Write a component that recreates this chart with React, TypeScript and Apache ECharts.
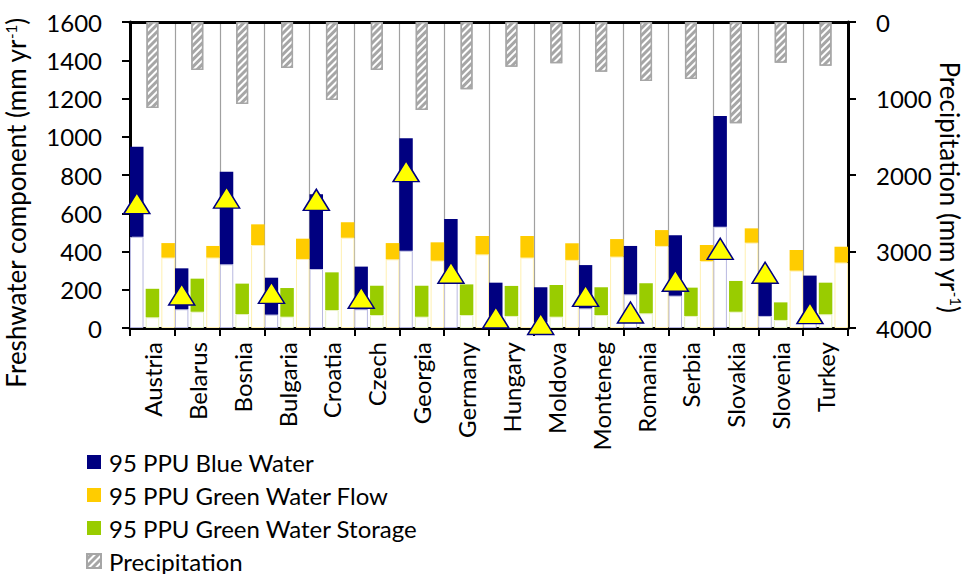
import React, { useEffect, useRef } from "react";
import * as echarts from "echarts";

const countries = ["Austria", "Belarus", "Bosnia", "Bulgaria", "Croatia", "Czech", "Georgia", "Germany", "Hungary", "Moldova", "Monteneg", "Romania", "Serbia", "Slovakia", "Slovenia", "Turkey"];
const blueLow = [477, 98, 333, 70, 309, 98, 404, 255, 60, 30, 103, 176, 169, 530, 63, 70];
const blueHigh = [948, 312, 817, 263, 699, 321, 992, 570, 237, 213, 329, 429, 485, 1109, 265, 274];
const flowLow = [368, 368, 434, 361, 472, 359, 352, 385, 368, 356, 373, 429, 350, 446, 300, 342];
const flowHigh = [444, 429, 542, 467, 553, 444, 448, 481, 481, 443, 465, 512, 434, 521, 408, 425];
const storageLow = [56, 85, 73, 59, 94, 68, 59, 68, 63, 59, 68, 77, 63, 85, 42, 72];
const storageHigh = [205, 258, 232, 209, 291, 221, 221, 228, 220, 225, 213, 234, 211, 246, 134, 237];
const precipitation = [1124, 627, 1072, 601, 1020, 627, 1150, 880, 584, 540, 650, 771, 745, 1324, 532, 571];
const bestBlue = [653, 175, 682, 184, 670, 158, 820, 289, 55, 21, 168, 81, 247, 414, 289, 78];
const leftTicks = [0, 200, 400, 600, 800, 1000, 1200, 1400, 1600];
const rightTicks = [0, 1000, 2000, 3000, 4000];

const FONT = "Lato, 'Open Sans', sans-serif";

export default function App() {
  const ref = useRef<HTMLDivElement>(null);
  useEffect(() => {
    document.body.style.margin = "0";
    if (!ref.current) return;
    const chart = echarts.init(ref.current, undefined, { renderer: "svg" });
    const diff = (hi: number[], lo: number[]) => hi.map((h, i) => h - lo[i]);
    const baseSeries = (stack: string, data: number[], border: string) => ({
      type: "bar",
      name: stack + "base",
      stack,
      xAxisIndex: 0,
      yAxisIndex: 0,
      data,
      itemStyle: { color: "#ffffff", borderColor: border, borderWidth: 1 },
      silent: true,
    });
    const titleRich = {
      n: { fontFamily: FONT, fontSize: 26, fill: "#000" },
      s: { fontFamily: FONT, fontSize: 15, fill: "#000", verticalAlign: "top", padding: [0, 0, 9, 0] },
    };
    const option: any = {
      animation: false,
      backgroundColor: "#ffffff",
      textStyle: { fontFamily: FONT },
      grid: { left: 130, right: 118, top: 22, bottom: 246, outerBoundsMode: "none" },
      legend: {
        orient: "vertical",
        left: 86,
        top: 450,
        height: 200,
        padding: 0,
        itemWidth: 14,
        itemHeight: 14,
        itemGap: 9,
        icon: "rect",
        textStyle: { fontFamily: FONT, fontSize: 24, color: "#000", lineHeight: 24, padding: [0, 0, 0, 3] },
        data: ["95 PPU Blue Water", "95 PPU Green Water Flow", "95 PPU Green Water Storage", "Precipitation"],
      },
      xAxis: [
        {
          type: "category",
          data: countries,
          position: "bottom",
          axisLine: { lineStyle: { color: "#000", width: 3 } },
          axisTick: { show: true, length: 8, lineStyle: { color: "#000", width: 2 } },
          axisLabel: { interval: 0, rotate: 90, fontSize: 24, color: "#000", margin: 14, fontFamily: FONT },
          splitLine: { show: true, lineStyle: { color: "#a0a0a0", width: 1.2 } },
        },
        {
          type: "category",
          data: countries,
          position: "top",
          axisLine: { lineStyle: { color: "#000", width: 3 } },
          axisTick: { show: false },
          axisLabel: { show: false },
          splitLine: { show: false },
        },
      ],
      yAxis: [
        {
          type: "value",
          min: 0,
          max: 1600,
          interval: 200,
          position: "left",
          axisLine: { show: true, lineStyle: { color: "#000", width: 3 } },
          axisTick: { show: true, length: 8, lineStyle: { color: "#000", width: 2 } },
          axisLabel: { fontSize: 24, color: "#000", margin: 28, fontFamily: FONT, formatter: (v: number) => (leftTicks.includes(v) ? String(v) : "") },
          splitLine: { show: false },
        },
        {
          type: "value",
          min: 0,
          max: 4000,
          interval: 1000,
          inverse: true,
          position: "right",
          axisLine: { show: true, lineStyle: { color: "#000", width: 3 } },
          axisTick: { show: true, length: 8, lineStyle: { color: "#000", width: 2 } },
          axisLabel: { fontSize: 24, color: "#000", margin: 28, fontFamily: FONT, formatter: (v: number) => (rightTicks.includes(v) ? String(v) : "") },
          splitLine: { show: false },
        },
      ],
      graphic: [
        {
          type: "text",
          x: 16,
          y: 203,
          rotation: Math.PI / 2,
          style: {
            text: "{n|Freshwater component (mm yr}{s|-1}{n|)}",
            align: "center",
            verticalAlign: "middle",
            rich: titleRich,
          },
        },
        {
          type: "text",
          x: 950,
          y: 187,
          rotation: -Math.PI / 2,
          style: {
            text: "{n|Precipitation (mm yr}{s|-1}{n|)}",
            align: "center",
            verticalAlign: "middle",
            rich: titleRich,
          },
        },
      ],
      series: [
        baseSeries("blue", blueLow, "#b8b8e0"),
        {
          type: "bar",
          name: "95 PPU Blue Water",
          stack: "blue",
          data: diff(blueHigh, blueLow),
          itemStyle: { color: "#000080" },
          barCategoryGap: "0%",
          barGap: "16%",
        },
        baseSeries("green", storageLow, "#e8f2c0"),
        {
          type: "bar",
          name: "95 PPU Green Water Storage",
          stack: "green",
          data: diff(storageHigh, storageLow),
          itemStyle: { color: "#99cc00" },
        },
        baseSeries("yellow", flowLow, "#fff0b0"),
        {
          type: "bar",
          name: "95 PPU Green Water Flow",
          stack: "yellow",
          data: diff(flowHigh, flowLow),
          itemStyle: { color: "#ffcc00" },
        },
        {
          type: "bar",
          name: "Precipitation",
          xAxisIndex: 1,
          yAxisIndex: 1,
          data: precipitation,
          barWidth: 12,
          itemStyle: {
            color: "#a6a6a6",
            borderColor: "#a6a6a6",
            borderWidth: 1.5,
            decal: {
              symbol: "rect",
              symbolSize: 1,
              dashArrayX: [1, 0],
              dashArrayY: [2, 2.5],
              rotation: -Math.PI / 4,
              color: "#ffffff",
            },
          },
        },
        {
          type: "scatter",
          name: "best",
          data: bestBlue,
          symbol: "triangle",
          symbolSize: [26, 21],
          symbolOffset: [-15.6, 0],
          clip: false,
          z: 5,
          itemStyle: { color: "#ffff00", borderColor: "#000080", borderWidth: 1.5, opacity: 1 },
        },
      ],
    };
    chart.setOption(option);
    return () => chart.dispose();
  }, []);
  return <div ref={ref} style={{ width: 966, height: 574, position: "absolute", left: 0, top: 0 }} />;
}
